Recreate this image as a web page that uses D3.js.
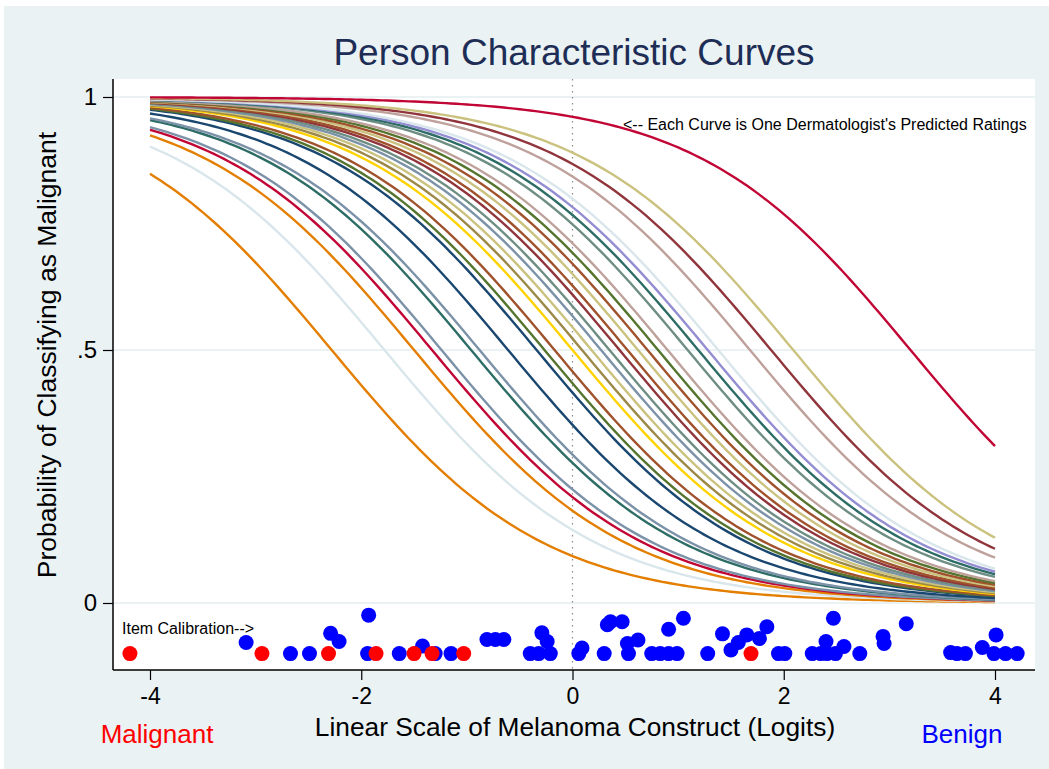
<!DOCTYPE html>
<html>
<head>
<meta charset="utf-8">
<script src="https://cdn.jsdelivr.net/npm/d3@7"></script>
<style>
  body { margin: 0; background: #ffffff; }
  svg { display: block; font-family: "Liberation Sans", Arial, sans-serif; }
</style>
</head>
<body>
<svg id="chart" width="1049" height="769"></svg>
<script>
// Person locations (logits) for each dermatologist's characteristic curve
const personMeasures = [
  -2.28, -1.78, -1.50, -1.33, -1.24, -0.96, -0.88, -0.61, -0.34, -0.265,
  -0.17, 0.00, 0.09, 0.18, 0.27, 0.35, 0.445, 0.52, 0.62, 0.71,
  0.81, 0.90, 1.09, 1.19, 1.28, 1.38, 1.68, 1.88, 2.09, 3.20
];
const personColors = [
  "#e37e00", "#d9e6eb", "#e37e00", "#c10534", "#7b92a8", "#2d6d66", "#7b92a8", "#1a476f", "#1a476f", "#55752f",
  "#a0522d", "#ffd200", "#9c8847", "#cac27e", "#7b92a8", "#6e8e84", "#90353b", "#a0522d", "#cac27e", "#a0522d",
  "#55752f", "#bfa19c", "#6e8e84", "#2d6d66", "#938dd2", "#d9e6eb", "#bfa19c", "#90353b", "#cac27e", "#c10534"
];

// Item calibrations: benign items
const benignLogits = [
  -3.09, -2.67, -2.49, -2.29, -2.21, -1.93, -1.94, -1.64, -1.42, -1.30,
  -1.15, -0.81, -0.73, -0.65, -0.40, -0.32, -0.29, -0.24, -0.21, 0.06,
  0.09, 0.30, 0.33, 0.36, 0.47, 0.52, 0.53, 0.62, 0.75, 0.83,
  0.91, 0.91, 0.99, 1.05, 1.28, 1.42, 1.50, 1.57, 1.65, 1.77,
  1.84, 1.95, 2.01, 2.27, 2.35, 2.40, 2.41, 2.47, 2.49, 2.57,
  2.72, 2.94, 2.95, 3.16, 3.58, 3.64, 3.72, 3.88, 4.01, 3.99,
  4.10, 4.21
];
const benignLevels = [
  -0.078, -0.1, -0.1, -0.06, -0.076, -0.024, -0.1, -0.1, -0.085, -0.1,
  -0.1, -0.072, -0.072, -0.072, -0.1, -0.1, -0.059, -0.076, -0.1, -0.1,
  -0.089, -0.1, -0.043, -0.037, -0.037, -0.08, -0.1, -0.073, -0.1, -0.1,
  -0.052, -0.1, -0.1, -0.03, -0.1, -0.061, -0.093, -0.078, -0.063, -0.07,
  -0.047, -0.1, -0.1, -0.1, -0.1, -0.076, -0.1, -0.03, -0.1, -0.086,
  -0.1, -0.066, -0.08, -0.041, -0.098, -0.1, -0.1, -0.088, -0.063, -0.1,
  -0.1, -0.1
];
// Item calibrations: malignant items
const malignantLogits = [-4.19, -2.94, -2.31, -1.86, -1.50, -1.33, -1.03, 1.69];
const malignantLevels = [-0.1, -0.1, -0.1, -0.1, -0.1, -0.1, -0.1, -0.1];

const xTicks = [-4, -2, 0, 2, 4];
const yTicks = [0, 0.5, 1];
const yTickLabels = ["0", ".5", "1"];

const svg = d3.select("#chart");

// Frame: graph region and plot region
const plot = { left: 113, right: 1035, top: 79, bottom: 670 };
svg.append("rect").attr("x", 4).attr("y", 6).attr("width", 1045).attr("height", 763).attr("fill", "#eaf2f3");
svg.append("rect").attr("x", plot.left).attr("y", plot.top)
  .attr("width", plot.right - plot.left).attr("height", plot.bottom - plot.top).attr("fill", "#ffffff");

const x = d3.scaleLinear().domain([-4, 4]).range([150, 995]);
const y = d3.scaleLinear().domain([0, 1]).range([603, 97]);

// Horizontal grid lines
svg.append("g").selectAll("line").data(yTicks).join("line")
  .attr("x1", plot.left).attr("x2", plot.right)
  .attr("y1", d => y(d)).attr("y2", d => y(d))
  .attr("stroke", "#eaf2f3").attr("stroke-width", 2.2);

// Reference line at logit 0
svg.append("line")
  .attr("x1", x(0)).attr("x2", x(0)).attr("y1", plot.top).attr("y2", plot.bottom)
  .attr("stroke", "#8a8a8a").attr("stroke-width", 1.2).attr("stroke-dasharray", "1.5 4.5");

// Rasch curves: P(malignant) = 1 / (1 + exp(theta - b))
const grid = d3.range(0, 161).map(i => -4 + i * 0.05);
const line = d3.line().x(d => x(d[0])).y(d => y(d[1]));
svg.append("g").selectAll("path").data(personMeasures).join("path")
  .attr("d", b => line(grid.map(t => [t, 1 / (1 + Math.exp(t - b))])))
  .attr("fill", "none")
  .attr("stroke", (b, i) => personColors[i])
  .attr("stroke-width", 2.4);

// Item calibration dots
svg.append("g").selectAll("circle").data(benignLogits).join("circle")
  .attr("cx", d => x(d)).attr("cy", (d, i) => y(benignLevels[i])).attr("r", 7.5)
  .attr("fill", "#0000ff");
svg.append("g").selectAll("circle").data(malignantLogits).join("circle")
  .attr("cx", d => x(d)).attr("cy", (d, i) => y(malignantLevels[i])).attr("r", 7.5)
  .attr("fill", "#ff0000");

// Axes
const xAxis = d3.axisBottom(x).tickValues(xTicks).tickSize(10).tickPadding(8).tickFormat(d => String(d));
const gx = svg.append("g").attr("transform", `translate(0,${plot.bottom})`).call(xAxis);
gx.select(".domain").remove();
gx.selectAll("text").attr("font-size", 23).attr("fill", "#000").attr("font-family", "Liberation Sans, Arial, sans-serif");
gx.selectAll("line").attr("stroke", "#000").attr("stroke-width", 1.2);

const yAxis = d3.axisLeft(y).tickValues(yTicks).tickSize(10).tickPadding(6)
  .tickFormat((d, i) => yTickLabels[i]);
const gy = svg.append("g").attr("transform", `translate(${plot.left},0)`).call(yAxis);
gy.select(".domain").remove();
gy.selectAll("text").attr("font-size", 24).attr("fill", "#000").attr("font-family", "Liberation Sans, Arial, sans-serif");
gy.selectAll("line").attr("stroke", "#000").attr("stroke-width", 1.2);

svg.append("line").attr("x1", plot.left).attr("x2", plot.right).attr("y1", plot.bottom).attr("y2", plot.bottom)
  .attr("stroke", "#000").attr("stroke-width", 1.5);
svg.append("line").attr("x1", plot.left).attr("x2", plot.left).attr("y1", plot.top).attr("y2", plot.bottom)
  .attr("stroke", "#000").attr("stroke-width", 1.5);

// Titles and annotations
svg.append("text").attr("x", 574).attr("y", 65).attr("text-anchor", "middle")
  .attr("font-size", 37).attr("fill", "#1e2d55").text("Person Characteristic Curves");
svg.append("text").attr("x", 575).attr("y", 736).attr("text-anchor", "middle")
  .attr("font-size", 26.3).attr("fill", "#000").text("Linear Scale of Melanoma Construct (Logits)");
svg.append("text").attr("transform", "translate(56,355) rotate(-90)").attr("text-anchor", "middle")
  .attr("font-size", 26.5).attr("fill", "#000").text("Probability of Classifying as Malignant");
svg.append("text").attr("x", 157).attr("y", 743).attr("text-anchor", "middle")
  .attr("font-size", 26).attr("fill", "#ff0000").text("Malignant");
svg.append("text").attr("x", 962).attr("y", 743).attr("text-anchor", "middle")
  .attr("font-size", 26).attr("fill", "#0000ff").text("Benign");
svg.append("text").attr("x", 623).attr("y", 130)
  .attr("font-size", 16).attr("fill", "#000").text("<-- Each Curve is One Dermatologist's Predicted Ratings");
svg.append("text").attr("x", 122).attr("y", 634)
  .attr("font-size", 16).attr("fill", "#000").text("Item Calibration-->");
</script>
</body>
</html>
